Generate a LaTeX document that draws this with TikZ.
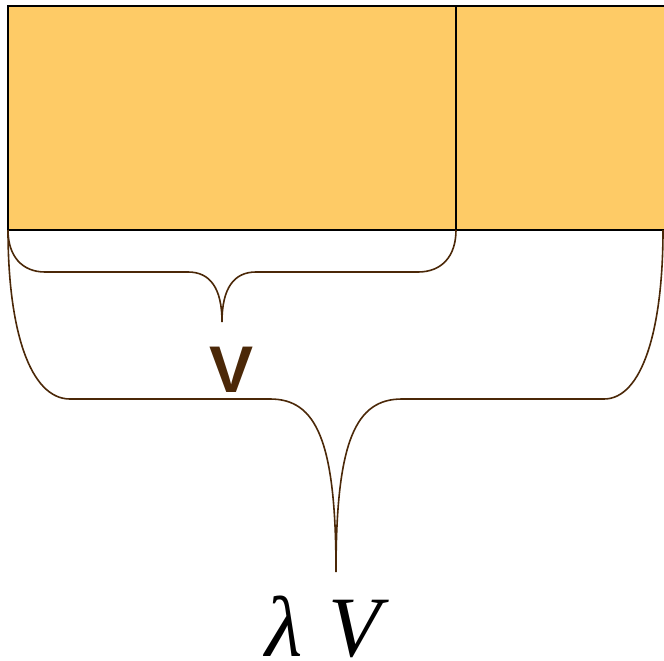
\documentclass[tikz,border=0pt]{standalone}
\usepackage{fontspec}
\setmainfont{Liberation Serif}
\newfontfamily\labsans{Liberation Sans}
\definecolor{boxfill}{RGB}{254,203,102}
\definecolor{bracecol}{RGB}{75,40,8}
\begin{document}
\begin{tikzpicture}[x=1pt,y=-1pt,
  part/.style={draw=black,line width=2pt,fill=boxfill},
  brace/.style={draw=bracecol,line width=1.6pt}]
\useasboundingbox (0,0) rectangle (664,661);
\path[part] (8,6) rectangle (456,230);
\path[part] (456,6) rectangle (668,230);
\coordinate (a) at (8,230);
\coordinate (b) at (456,230);
\coordinate (c) at (663,230);
\coordinate (t1) at (222,322);
\coordinate (t2) at (336,572);
% small brace
\draw[brace] (a) .. controls (8,256) and (22,272) .. (45,272) -- (188,272)
  .. controls (210,272) and (222,288) .. (t1)
  .. controls (222,288) and (234,272) .. (256,272) -- (418,272)
  .. controls (442,272) and (456,256) .. (b);
% large brace
\draw[brace] (a) .. controls (8,330) and (30,399) .. (70,399) -- (270,399)
  .. controls (316,399) and (336,440) .. (t2)
  .. controls (336,440) and (356,399) .. (402,399) -- (604,399)
  .. controls (642,399) and (663,330) .. (c);
\node[font=\labsans\bfseries\fontsize{66}{66}\selectfont,text=bracecol,inner sep=0pt,anchor=base] (v) at (232,392) {V};
\node[font=\itshape\fontsize{86}{86}\selectfont,inner sep=0pt,anchor=base] (lv) at (323,656) {λ\kern 26pt V};
\end{tikzpicture}
\end{document}
